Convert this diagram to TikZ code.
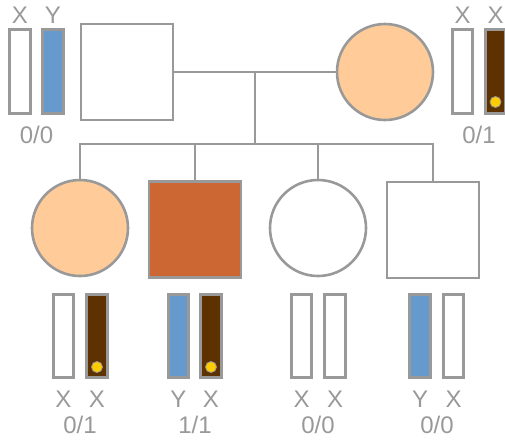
\documentclass[tikz,border=0pt]{standalone}
\usepackage{fontspec}
\setmainfont{Liberation Sans}
\usepackage{tikz}
\usetikzlibrary{positioning, calc}

\definecolor{linegray}{HTML}{999999}
\definecolor{ychrom}{HTML}{6699CC}
\definecolor{xmut}{HTML}{5E3200}
\definecolor{carrier}{HTML}{FFCC99}
\definecolor{affected}{HTML}{CC6633}
\definecolor{allele}{HTML}{FFCC00}

\begin{document}
\begin{tikzpicture}[%
    x=1pt, y=-1pt,      % pixel-like units, y downwards
    line width=2.6pt,
    draw=linegray,
    male/.style={draw=linegray, rectangle, minimum width=92pt, minimum height=96pt, inner sep=0pt},
    female/.style={draw=linegray, circle, minimum size=96pt, inner sep=0pt},
    chrom/.style={draw=linegray, rectangle, minimum width=20.5pt, minimum height=83.5pt, inner sep=0pt, fill=white},
    ybar/.style={chrom, fill=ychrom},
    xbad/.style={chrom, fill=xmut},
    dot/.style={draw=linegray, line width=0.8pt, circle, fill=allele, minimum size=11pt, inner sep=0pt},
    lab/.style={anchor=base, text=linegray, inner sep=0pt, font=\fontsize{24}{28}\selectfont}
]
    \useasboundingbox (0,0) rectangle (505,440);

    % ==========================================
    % 1. Parents
    % ==========================================
    \node[male] (dad) at (127,72) {};
    \node[female, fill=carrier] (mom) at (385,72) {};

    % ==========================================
    % 2. Children
    % ==========================================
    \node[female, fill=carrier] (kid1) at (80,228) {};
    \node[male, fill=affected] (kid2) at (195,229.5) {};
    \node[female] (kid3) at (318,228) {};
    \node[male] (kid4) at (433,230) {};

    % ==========================================
    % 3. Lines
    % ==========================================
    \coordinate (mate) at (255,72);
    \coordinate (sib) at (255,144);
    \draw (dad.east) -- (mom.west);
    \draw (mate) -- (sib);
    \draw (sib) -| (kid1.north);
    \draw (sib) -| (kid2.north);
    \draw (sib) -| (kid3.north);
    \draw (sib) -| (kid4.north);

    % ==========================================
    % 4. Chromosomes - parents
    % ==========================================
    % father: X Y
    \node[chrom] (dadX) at (20,71.5) {};
    \node[ybar] (dadY) at (53,71.5) {};
    \node[lab] at (20,23) {X};
    \node[lab] at (53,23) {Y};
    \node[lab] at (36.5,143) {0/0};
    % mother: X X
    \node[chrom] (momX1) at (462.5,71.5) {};
    \node[xbad] (momX2) at (495.5,71.5) {};
    \node[dot] at (495.5,102) {};
    \node[lab] at (462.5,23) {X};
    \node[lab] at (495.5,23) {X};
    \node[lab] at (479,143) {0/1};

    % ==========================================
    % 5. Chromosomes - children
    % ==========================================
    % daughter (carrier)
    \node[chrom] (k1a) at (63.5,336) {};
    \node[xbad] (k1b) at (97,336) {};
    \node[dot] at (97,367) {};
    \node[lab] at (63.5,407) {X};
    \node[lab] at (97,407) {X};
    \node[lab] at (80,433) {0/1};
    % son (affected)
    \node[ybar] (k2a) at (178.5,336) {};
    \node[xbad] (k2b) at (211,336) {};
    \node[dot] at (211,367) {};
    \node[lab] at (178.5,407) {Y};
    \node[lab] at (211,407) {X};
    \node[lab] at (195,433) {1/1};
    % daughter
    \node[chrom] (k3a) at (301.5,336) {};
    \node[chrom] (k3b) at (335,336) {};
    \node[lab] at (301.5,407) {X};
    \node[lab] at (335,407) {X};
    \node[lab] at (318,433) {0/0};
    % son
    \node[ybar] (k4a) at (420,336) {};
    \node[chrom] (k4b) at (453.5,336) {};
    \node[lab] at (420,407) {Y};
    \node[lab] at (453.5,407) {X};
    \node[lab] at (437,433) {0/0};

\end{tikzpicture}
\end{document}
